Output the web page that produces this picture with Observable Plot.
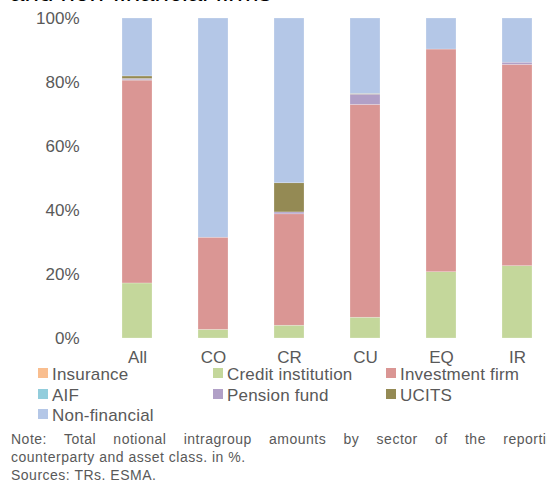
<!DOCTYPE html>
<html>
<head>
<meta charset="utf-8">
<script src="https://cdn.jsdelivr.net/npm/d3@7"></script>
<script src="https://cdn.jsdelivr.net/npm/@observablehq/plot@0.6"></script>
<style>
  html, body { margin: 0; padding: 0; background: #fff; }
  body { width: 547px; height: 481px; overflow: hidden; position: relative; font-family: "Liberation Sans", Arial, sans-serif; color: #595959; }
  #title { position: absolute; left: 10px; top: -23px; font-size: 26px; line-height: 30px; color: #000; white-space: nowrap; z-index: 2; }
  #chart { position: absolute; left: 0; top: 0; z-index: 1; }
  #legend { position: absolute; left: 0; top: 0; z-index: 2; }
  .leg { position: absolute; font-size: 17px; letter-spacing: 0.2px; white-space: nowrap; line-height: 16px; color: #595959; }
  .sw { position: absolute; width: 10px; height: 10px; }
  .note { position: absolute; left: 11px; font-size: 14px; letter-spacing: 0.5px; line-height: 18px; white-space: nowrap; color: #595959; z-index: 2; }
  #note1 { width: 552px; text-align: justify; text-align-last: justify; white-space: normal; }
</style>
</head>
<body>
<div id="title">and non-financial firms</div>
<div id="chart"></div>
<div id="legend"></div>
<div class="note" id="note1" style="top:430px;">Note: Total notional intragroup amounts by sector of the reporting</div>
<div class="note" style="top:448px;">counterparty and asset class. in %.</div>
<div class="note" style="top:466px;">Sources: TRs. ESMA.</div>
<script>
const categories = ["All", "CO", "CR", "CU", "EQ", "IR"];
const seriesNames = ["Insurance", "Credit institution", "Investment firm", "AIF", "Pension fund", "UCITS", "Non-financial"];
const seriesColors = ["#F9BE8F", "#C4D79B", "#DA9694", "#92CDDC", "#B1A0C7", "#948A54", "#B4C7E7"];
const insurance   = [0,    0,    0,    0,    0,    0];
const creditInst  = [17.2, 2.7,  4.0,  6.5,  20.7, 22.6];
const investFirm  = [63.4, 28.8, 34.8, 66.5, 69.6, 62.9];
const aif         = [0.1,  0,    0,    0,    0,    0];
const pensionFund = [0.4,  0,    0.6,  3.2,  0,    0.7];
const ucits       = [0.8,  0,    9.1,  0.2,  0,    0];
const nonFinancial= [18.1, 68.5, 51.5, 23.6, 9.7,  13.8];
const yTicks = [0, 20, 40, 60, 80, 100];

const seriesValues = [insurance, creditInst, investFirm, aif, pensionFund, ucits, nonFinancial];
const rows = [];
categories.forEach((c, i) => {
  seriesNames.forEach((s, j) => {
    rows.push({category: c, series: s, value: seriesValues[j][i]});
  });
});

const chart = Plot.plot({
  width: 547,
  height: 368,
  marginTop: 18,
  marginBottom: 30,
  marginLeft: 113,
  marginRight: 6,
  style: {fontFamily: '"Liberation Sans", Arial, sans-serif', fontSize: "17px", color: "#595959", background: "transparent", overflow: "visible"},
  x: {domain: categories, paddingInner: 0.6, paddingOuter: 0.1, label: null, tickSize: 0, tickPadding: 12},
  y: {domain: [0, 100], ticks: yTicks, tickFormat: d => d + "%", label: null, tickSize: 0, tickPadding: 34},
  color: {domain: seriesNames, range: seriesColors},
  marks: [
    Plot.barY(rows, Plot.stackY({x: "category", y: "value", fill: "series", order: seriesNames, stroke: "white", strokeOpacity: 0.45, strokeWidth: 0.5}))
  ]
});
document.getElementById("chart").appendChild(chart);

// Legend
const legend = document.getElementById("legend");
const colX = [38, 213, 386];
const rowY = [367, 387.5, 408];
seriesNames.forEach((s, i) => {
  const col = i % 3, row = Math.floor(i / 3);
  const sw = document.createElement("div");
  sw.className = "sw";
  sw.style.left = colX[col] + "px";
  sw.style.top = (rowY[row] + 1) + "px";
  sw.style.background = seriesColors[i];
  legend.appendChild(sw);
  const t = document.createElement("div");
  t.className = "leg";
  t.style.left = (colX[col] + 14) + "px";
  t.style.top = rowY[row] + "px";
  t.textContent = s;
  legend.appendChild(t);
});
</script>
</body>
</html>
